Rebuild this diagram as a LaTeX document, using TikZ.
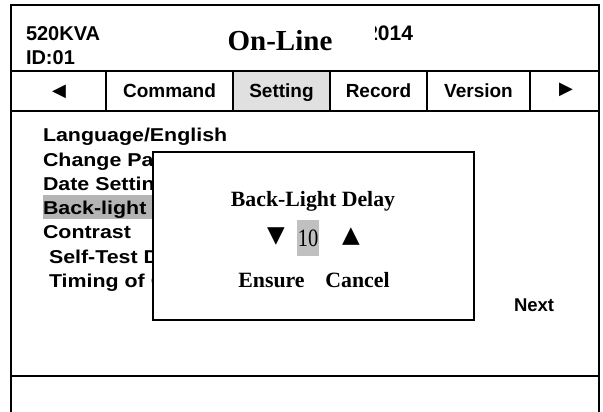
\documentclass[tikz,border=0pt]{standalone}
\usepackage{fontspec}
\setmainfont{Liberation Serif}
\newfontfamily\sansf{Liberation Sans}
\newfontfamily\menuf[FakeStretch=1.15]{Liberation Sans}
\newfontfamily\numf[FakeStretch=0.82]{Liberation Serif}
\newfontfamily\symf{DejaVu Sans}
\definecolor{tabgray}{RGB}{224,224,224}
\definecolor{hlgray}{RGB}{180,180,180}
\definecolor{valgray}{RGB}{192,192,192}
\tikzset{
  frameline/.style={line width=2.4pt},
  txt/.style={inner sep=0pt, outer sep=0pt},
  hdrtxt/.style={txt, font=\sansf\bfseries\fontsize{20}{22}\selectfont},
  tabtxt/.style={txt, anchor=base, font=\sansf\bfseries\fontsize{19}{21}\selectfont},
  menutxt/.style={txt, anchor=base west, font=\menuf\bfseries\fontsize{18.6}{20}\selectfont},
  dlgtxt/.style={txt, anchor=base, font=\bfseries\fontsize{21.8}{23}\selectfont},
  symtxt/.style={txt, font=\symf},
}
\begin{document}
\begin{tikzpicture}[x=1pt,y=-1pt]
\useasboundingbox (0,0) rectangle (603,412);
% highlighted tab
\fill[tabgray] (233,71) rectangle (330,111);
% frame
\draw[frameline] (11,412) -- (11,5) -- (599,5) -- (599,412);
\draw[frameline] (11,71) -- (599,71);
\draw[frameline] (11,111) -- (599,111);
\draw[frameline] (11,376) -- (599,376);
\foreach \x in {106,233,330,427,530} \draw[frameline] (\x,71) -- (\x,111);
% header
\node[hdrtxt, anchor=base west] (kva) at (26,41) {520KVA};
\node[hdrtxt, anchor=base west] (id) at (26,65) {ID:01};
\node[txt, anchor=base, font=\bfseries\fontsize{29}{31}\selectfont] (online) at (280,51) {On-Line};
\begin{scope}
\clip (375,0) rectangle (460,70);
\node[hdrtxt, anchor=base east, font=\sansf\bfseries\fontsize{21}{23}\selectfont] (date) at (413,41) {2014};
\end{scope}
% tabs
\node[symtxt, font=\symf\fontsize{18}{20}\selectfont] (left) at (59,92) {◀};
\node[tabtxt] (cmd) at (169.5,97.5) {Command};
\node[tabtxt] (set) at (281.5,97.5) {Setting};
\node[tabtxt] (rec) at (378.5,97.5) {Record};
\node[tabtxt] (ver) at (478.5,97.5) {Version};
\node[symtxt, font=\symf\fontsize{18}{20}\selectfont] (right) at (566,90) {▶};
% menu
\fill[hlgray] (43,195) rectangle (160,219);
\node[menutxt] (m1) at (43,142) {Language/English};
\node[menutxt] (m2) at (43,166) {Change Pa};
\node[menutxt] (m3) at (43,190) {Date Settin};
\node[menutxt] (m4) at (43,214) {Back-light D};
\node[menutxt] (m5) at (43,238) {Contrast};
\node[menutxt] (m6) at (49,263) {Self-Test D};
\node[menutxt] (m7) at (49,287) {Timing of O};
\node[menutxt, font=\sansf\bfseries\fontsize{18.5}{20}\selectfont] (next) at (514,311) {Next};
% dialog
\node[draw, fill=white, line width=1.8pt, anchor=north west, inner sep=0pt,
      minimum width=321pt, minimum height=168pt] (dlg) at (152,151) {};
\node[dlgtxt] (title) at (313,206) {Back-Light Delay};
\fill[valgray] (297,220) rectangle (319,256);
\node[txt, anchor=base, font=\numf\fontsize{25}{27}\selectfont] (val) at (308,246.5) {10};
\node[symtxt, font=\symf\fontsize{23}{25}\selectfont] (down) at (276,237) {▼};
\node[symtxt, font=\symf\fontsize{23}{25}\selectfont] (up) at (351,237) {▲};
\node[dlgtxt] (ok) at (271.5,287) {Ensure};
\node[dlgtxt] (cancel) at (357.5,287) {Cancel};
\end{tikzpicture}
\end{document}
